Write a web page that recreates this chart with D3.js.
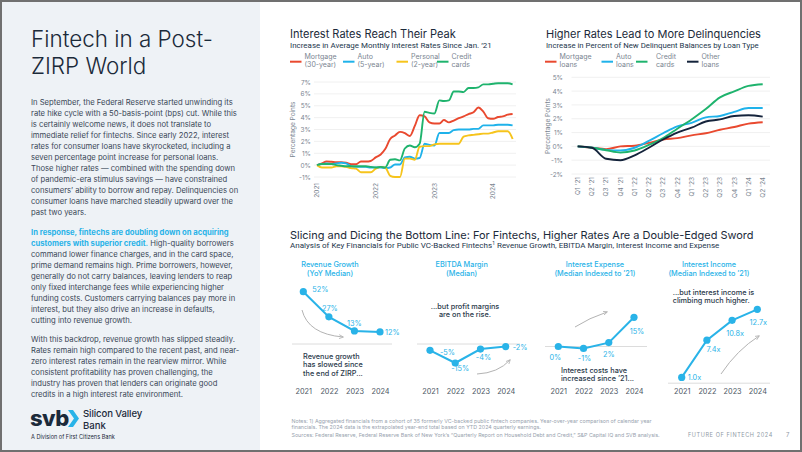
<!DOCTYPE html>
<html><head><meta charset="utf-8">
<script src="https://cdn.jsdelivr.net/npm/d3@7"></script>
<style>
body{margin:0;background:#fff}
svg{display:block}
text{font-family:Inter,"Noto Sans",Roboto,sans-serif}
</style>
</head><body>
<svg id="c" width="802" height="452"></svg>
<script>
// ---------------- DATA ----------------
const rateMonths = ["2021-01","2021-02","2021-03","2021-04","2021-05","2021-06","2021-07","2021-08","2021-09","2021-10","2021-11","2021-12",
"2022-01","2022-02","2022-03","2022-04","2022-05","2022-06","2022-07","2022-08","2022-09","2022-10","2022-11","2022-12",
"2023-01","2023-02","2023-03","2023-04","2023-05","2023-06","2023-07","2023-08","2023-09","2023-10","2023-11","2023-12",
"2024-01","2024-02","2024-03","2024-04","2024-05"];
const mortgageRate = [0,0.15,0.3,0.28,0.25,0.25,0.2,0.08,0.08,0.3,0.3,0.35,
0.65,0.9,1.35,2.2,2.5,2.8,2.7,2.45,3.3,4.2,4.1,3.6,
3.5,3.5,3.8,3.6,3.75,3.95,4.1,4.3,4.45,4.85,4.5,3.95,
3.9,4.05,4.1,4.25,4.3];
const autoRate = [0,0.1,0.15,0.1,0.15,0.2,0.15,-0.1,-0.15,-0.15,-0.15,-0.2,
-0.2,-0.2,-0.25,-0.2,0.05,0.05,0.65,0.7,0.55,0.6,1.8,1.7,
1.65,2.7,2.7,2.7,2.95,3.0,3.0,3.0,3.05,3.05,3.35,3.35,
3.35,3.4,3.4,3.4,3.35];
const personalRate = [0,-0.2,-0.2,-0.2,-0.1,-0.1,-0.15,-0.25,-0.3,-0.6,-0.6,-0.6,
-0.3,-0.15,-0.2,-0.9,-1.0,-1.0,0.55,0.55,0.45,1.55,1.6,1.6,
1.75,1.8,1.8,1.8,1.8,1.8,2.4,2.5,2.55,2.6,2.65,2.65,
2.75,2.85,2.85,2.85,2.2];
const creditRate = [0,0.1,0.1,0.1,0,-0.05,-0.1,-0.1,-0.1,-0.1,-0.1,-0.15,
-0.2,-0.15,-0.2,0.45,0.5,0.4,1.4,1.65,1.5,1.8,4.5,4.4,
4.35,5.45,5.4,5.45,6.2,6.2,6.15,6.5,6.5,6.55,6.8,6.8,
6.85,6.9,6.9,6.9,6.8];
const rateSeriesNames = ["Mortgage|(30-year)","Auto|(5-year)","Personal|(2-year)","Credit|cards"];
const rateTicks = [-1,0,1,2,3,4,5,6,7];
const rateYears = ["2021","2022","2023","2024"];

const quarters = ["Q1 '21","Q2 '21","Q3 '21","Q4 '21","Q1 '22","Q2 '22","Q3 '22","Q4 '22","Q1 '23","Q2 '23","Q3 '23","Q4 '23","Q1 '24","Q2 '24"];
const delMortgage = [0,-0.1,-0.2,0,0.05,0.25,0.5,0.6,0.8,0.95,1.2,1.4,1.65,1.75];
const delAuto = [0,-0.1,-0.25,-0.3,-0.1,0.4,0.95,1.45,1.7,2.1,2.2,2.5,2.78,2.78];
const delCredit = [0,-0.1,-0.28,-0.45,-0.3,0.1,0.6,1.28,1.95,2.7,3.55,3.98,4.38,4.5];
const delOther = [0,-0.1,-0.9,-1.0,-0.65,-0.1,0.5,1.0,1.35,1.8,1.95,2.2,2.25,2.15];
const delSeriesNames = ["Mortgage|loans","Auto|loans","Credit|cards","Other|loans"];
const delTicks = [-2,-1,0,1,2,3,4,5];

const finYears = ["2021","2022","2023","2024"];
const revenueGrowth = [52,27,13,12];
const ebitdaMargin = [-5,-15,-4,-2];
const interestExpense = [0,-1,2,15];
const interestIncome = [1.0,7.4,10.8,12.7];

// ---------------- DRAW ----------------
const svg = d3.select("#c");
const NAVY="#1b2a3a", BODY="#3a4756", GRAY="#7a8591", GRID="#ececec";
const C_RED="#e9492f", C_BLUE="#1fb2ea", C_YEL="#f6c41c", C_GRN="#1eb36d", C_NAVY="#14233b", LB="#29b3e8";
const SUBF = "Roboto,Inter,sans-serif";

function fitW(sel, w){ sel.each(function(){ const cur=this.getComputedTextLength(); const fs=parseFloat(d3.select(this).style("font-size")); d3.select(this).style("font-size",(fs*w/cur)+"px"); }); }

svg.append("rect").attr("x",1).attr("y",1).attr("width",800).attr("height",450).attr("fill","#fff").attr("stroke","#707070").attr("stroke-width",2);
svg.append("rect").attr("x",2).attr("y",2).attr("width",258).attr("height",448).attr("fill","#eef2f6");

// Left panel title
const t1 = svg.append("text").attr("x",31).attr("y",47).attr("fill",NAVY).style("font-weight",300).style("font-size","26px").text("Fintech in a Post-");
fitW(t1,182);
svg.append("text").attr("x",31).attr("y",74).attr("fill",NAVY).style("font-weight",300).style("font-size",t1.style("font-size")).text("ZIRP World");

// Body text
const para1 = ["In September, the Federal Reserve started unwinding its","rate hike cycle with a 50-basis-point (bps) cut. While this","is certainly welcome news, it does not translate to","immediate relief for fintechs. Since early 2022, interest","rates for consumer loans have skyrocketed, including a","seven percentage point increase for personal loans.","Those higher rates \u2014 combined with the spending down","of pandemic-era stimulus savings \u2014 have constrained","consumers\u2019 ability to borrow and repay. Delinquencies on","consumer loans have marched steadily upward over the","past two years."];
const para2 = [[["In response, fintechs are doubling down on acquiring",1]],[["customers with superior credit.",1],[" High-quality borrowers",0]],[["command lower finance charges, and in the card space,",0]],[["prime demand remains high. Prime borrowers, however,",0]],[["generally do not carry balances, leaving lenders to reap",0]],[["only fixed interchange fees while experiencing higher",0]],[["funding costs. Customers carrying balances pay more in",0]],[["interest, but they also drive an increase in defaults,",0]],[["cutting into revenue growth.",0]]];
const para3 = ["With this backdrop, revenue growth has slipped steadily.","Rates remain high compared to the recent past, and near-","zero interest rates remain in the rearview mirror. While","consistent profitability has proven challenging, the","industry has proven that lenders can originate good","credits in a high interest rate environment."];

const bodyG = svg.append("g").style("font-size","8.5px").attr("fill",BODY);
para1.forEach((l,i)=>bodyG.append("text").attr("class","b").attr("x",31).attr("y",104.8+i*11).text(l));
para2.forEach((segs,i)=>{ const t=bodyG.append("text").attr("class","b").attr("x",31).attr("y",234.6+i*11.03);
  segs.forEach(s=>t.append("tspan").text(s[0]).attr("fill",s[1]?LB:BODY).style("font-weight",s[1]?700:400)); });
para3.forEach((l,i)=>bodyG.append("text").attr("class","b").attr("x",31).attr("y",342.3+i*11).text(l));
{ const ref=bodyG.select("text").node(); const k=202/ref.getComputedTextLength(); bodyG.style("font-size",(8.5*k)+"px"); }

// Logo
svg.append("text").attr("x",30).attr("y",425.5).attr("fill",NAVY).style("font-weight",800).style("font-size","22px").style("letter-spacing","-0.5px").text("svb");
svg.append("path").attr("d","M68,410 L73,410 L79,418.5 L73,427 L68,427 L74,418.5 Z").attr("fill",LB);
const sv = svg.append("text").attr("x",83).attr("y",417.3).attr("fill",NAVY).style("font-size","8.6px").style("font-weight",500).style("letter-spacing","-0.1px").text("Silicon Valley");
fitW(sv,59);
svg.append("text").attr("x",83).attr("y",428.6).attr("fill",NAVY).style("font-size",sv.style("font-size")).style("font-weight",500).text("Bank");
const dv = svg.append("text").attr("x",31).attr("y",438.5).attr("fill",NAVY).style("font-size","5.5px").text("A Division of First Citizens Bank");
fitW(dv,84);

// ---------- Chart 1 ----------
const c1 = svg.append("g");
const tt1 = c1.append("text").attr("x",290).attr("y",37.5).attr("fill",NAVY).style("font-size","12.5px").text("Interest Rates Reach Their Peak"); fitW(tt1,166);
const st1 = c1.append("text").attr("x",290).attr("y",48.3).attr("fill","#23364c").style("font-family",SUBF).style("font-size","8px").text("Increase in Average Monthly Interest Rates Since Jan. \u201921"); fitW(st1,202);

const parseM = d3.timeParse("%Y-%m");
const dates = rateMonths.map(parseM);
const x1 = d3.scaleTime().domain([dates[0], dates[dates.length-1]]).range([317, 512.6]);
const y1 = d3.scaleLinear().domain([-1,7]).range([177,82]);
c1.append("g").selectAll("line").data(rateTicks).join("line")
  .attr("x1",314).attr("x2",516).attr("y1",d=>y1(d)).attr("y2",d=>y1(d)).attr("stroke",GRID).attr("stroke-width",0.8);
const ya1 = c1.append("g").attr("transform","translate(311,0)").call(d3.axisLeft(y1).tickValues(rateTicks).tickFormat(d=>d+"%").tickSize(0).tickPadding(0));
ya1.select(".domain").remove();
ya1.selectAll("text").attr("fill",GRAY).style("font-size","6.5px").style("font-family","Inter,sans-serif");
c1.append("g").selectAll("text").data(rateYears).join("text")
  .attr("transform",d=>`translate(${x1(parseM(d+"-01"))},183) rotate(-90)`)
  .attr("dy","0.35em").attr("text-anchor","end").attr("fill",GRAY).style("font-size","6.5px").text(d=>d);
c1.append("text").attr("transform","translate(295,129.5) rotate(-90)").attr("text-anchor","middle").attr("fill",GRAY).style("font-size","6.5px").text("Percentage Points");

const rateSeries = [[mortgageRate,C_RED],[autoRate,C_BLUE],[personalRate,C_YEL],[creditRate,C_GRN]];
const line1 = d3.line().x((d,i)=>x1(dates[i])).y(d=>y1(d)).curve(d3.curveMonotoneX);
rateSeries.forEach(([vals,col])=>c1.append("path").datum(vals).attr("d",line1).attr("fill","none").attr("stroke",col).attr("stroke-width",1.9).attr("stroke-linejoin","round"));
// legend
const leg1X=[290,343,396.5,437];
rateSeriesNames.forEach((n,i)=>{ const [a,b]=n.split("|");
  c1.append("line").attr("x1",leg1X[i]).attr("x2",leg1X[i]+11.5).attr("y1",61.7).attr("y2",61.7).attr("stroke",rateSeries[i][1]).attr("stroke-width",2);
  c1.append("text").attr("x",leg1X[i]+14.5).attr("y",59).attr("fill",GRAY).style("font-size","7px").text(a);
  c1.append("text").attr("x",leg1X[i]+14.5).attr("y",66.5).attr("fill",GRAY).style("font-size","7px").text(b);
});

// ---------- Chart 2 ----------
const c2 = svg.append("g");
const tt2 = c2.append("text").attr("x",546).attr("y",37.5).attr("fill",NAVY).style("font-size","12.5px").text("Higher Rates Lead to More Delinquencies"); fitW(tt2,215);
const st2 = c2.append("text").attr("x",546).attr("y",48.3).attr("fill","#23364c").style("font-family",SUBF).style("font-size","8px").text("Increase in Percent of New Delinquent Balances by Loan Type"); fitW(st2,213);
const x2 = d3.scalePoint().domain(quarters).range([577.7,762.7]);
const y2 = d3.scaleLinear().domain([-2,5]).range([174,77.3]);
c2.append("g").selectAll("line").data(delTicks).join("line")
  .attr("x1",571.5).attr("x2",770).attr("y1",d=>y2(d)).attr("y2",d=>y2(d)).attr("stroke",GRID).attr("stroke-width",0.8);
const ya2 = c2.append("g").attr("transform","translate(563,0)").call(d3.axisLeft(y2).tickValues(delTicks).tickFormat(d=>d+"%").tickSize(0).tickPadding(0));
ya2.select(".domain").remove();
ya2.selectAll("text").attr("fill",GRAY).style("font-size","6.5px").style("font-family","Inter,sans-serif");
c2.append("g").selectAll("text").data(quarters).join("text")
  .attr("transform",d=>`translate(${x2(d)},177) rotate(-90)`)
  .attr("dy","0.35em").attr("text-anchor","end").attr("fill",GRAY).style("font-size","6.5px").text(d=>d);
c2.append("text").attr("transform","translate(550,126) rotate(-90)").attr("text-anchor","middle").attr("fill",GRAY).style("font-size","6.5px").text("Percentage Points");
const delSeries = [[delMortgage,C_RED],[delAuto,C_BLUE],[delCredit,C_GRN],[delOther,C_NAVY]];
const line2 = d3.line().x((d,i)=>x2(quarters[i])).y(d=>y2(d)).curve(d3.curveMonotoneX);
delSeries.forEach(([vals,col])=>c2.append("path").datum(vals).attr("d",line2).attr("fill","none").attr("stroke",col).attr("stroke-width",1.9));
const leg2X=[545,601.5,636,687];
delSeriesNames.forEach((n,i)=>{ const [a,b]=n.split("|");
  c2.append("line").attr("x1",leg2X[i]).attr("x2",leg2X[i]+11.5).attr("y1",61.7).attr("y2",61.7).attr("stroke",delSeries[i][1]).attr("stroke-width",2);
  const tx = i===2? leg2X[i]+20 : leg2X[i]+14.5;
  c2.append("text").attr("x",tx).attr("y",59).attr("fill",GRAY).style("font-size","7px").text(a);
  c2.append("text").attr("x",tx).attr("y",66.5).attr("fill",GRAY).style("font-size","7px").text(b);
});

// ---------- Bottom section ----------
const c3 = svg.append("g");
const tt3 = c3.append("text").attr("x",290).attr("y",238.5).attr("fill",NAVY).style("font-size","12.5px").text("Slicing and Dicing the Bottom Line: For Fintechs, Higher Rates Are a Double-Edged Sword"); fitW(tt3,464);
const st3 = c3.append("text").attr("x",290).attr("y",248.3).attr("fill","#23364c").style("font-family",SUBF).style("font-size","8px");
st3.append("tspan").text("Analysis of Key Financials for Public VC-Backed Fintechs");
st3.append("tspan").text("1").style("font-size","5px").attr("dy","-3");
st3.append("tspan").text(" Revenue Growth, EBITDA Margin, Interest Income and Expense").attr("dy","3");
fitW(st3,430);

const defs = svg.append("defs");
defs.append("marker").attr("id","ah").attr("viewBox","0 0 10 10").attr("refX",8).attr("refY",5).attr("markerWidth",5).attr("markerHeight",5).attr("orient","auto")
  .append("path").attr("d","M0,1 L9,5 L0,9").attr("fill","none").attr("stroke","#b3b3b3").attr("stroke-width",1.6);

const panels = [
  {title:["Revenue Growth","(YoY Median)"], cx:330, vals:revenueGrowth, fmt:d=>d+"%", xr:[303.3,380], dom:[0,52], rng:[344,291.7], base:[292,392,344],
   lab:[[9,-2.5,"start"],[1,-8,"middle"],[0,-7.5,"middle"],[5,0.5,"start"]],
   note:["Revenue growth","has slowed since","the end of ZIRP..."], noteX:303, noteY:356.5, noteAnchor:"start",
   arrow:"M302,310 Q308,334 343,337"},
  {title:["EBITDA Margin","(Median)"], cx:461.7, vals:ebitdaMargin, fmt:d=>d+"%", xr:[430,505.7], dom:[0,-15], rng:[344,363], base:[417,520,344],
   lab:[[10,2,"start"],[5,5.5,"middle"],[3,8,"middle"],[7,0.5,"start"]],
   note:["...but profit margins","are on the rise."], noteX:465, noteY:306.5, noteAnchor:"middle",
   arrow:"M477,374 Q498,373 510,360"},
  {title:["Interest Expense","(Median Indexed to \u201921)"], cx:595, vals:interestExpense, fmt:d=>d+"%", xr:[558.3,634], dom:[0,15], rng:[346.5,317.3], base:[545,647,346.5],
   lab:[[-3,10.5,"middle"],[1,9.5,"middle"],[0,12,"middle"],[3,14,"middle"]],
   note:["Interest costs have","increased since \u201921..."], noteX:561, noteY:370.5, noteAnchor:"start",
   arrow:"M575,327 Q589,318 607,312"},
  {title:["Interest Income","(Median Indexed to \u201921)"], cx:709, vals:interestIncome, fmt:d=>d.toFixed(1)+"x", xr:[681.7,757.3], dom:[0,12.7], rng:[383.2,309.3], base:[668,770,383.2],
   lab:[[6,0,"start"],[6.5,9.3,"middle"],[3,12.7,"middle"],[1,13.4,"middle"]],
   note:["...but interest income is","climbing much higher."], noteX:672.7, noteY:292.5, noteAnchor:"start",
   arrow:"M721,374 Q737,350 759,336"}
];
panels.forEach(p=>{
  const g = c3.append("g");
  p.title.forEach((t,i)=>g.append("text").attr("x",p.cx).attr("y",264+i*9.3).attr("dy","0.35em").attr("text-anchor","middle").attr("fill",LB).style("font-size","7.3px").style("font-weight",500).text(t));
  g.append("line").attr("x1",p.base[0]).attr("x2",p.base[1]).attr("y1",p.base[2]).attr("y2",p.base[2]).attr("stroke","#dcdcdc").attr("stroke-width",1);
  const xs = d3.scalePoint().domain(finYears).range(p.xr);
  const ys = d3.scaleLinear().domain(p.dom).range(p.rng);
  g.append("path").attr("d",p.arrow).attr("fill","none").attr("stroke","#b3b3b3").attr("stroke-width",1).attr("marker-end","url(#ah)");
  g.append("path").datum(p.vals).attr("d",d3.line().x((d,i)=>xs(finYears[i])).y(d=>ys(d))).attr("fill","none").attr("stroke",LB).attr("stroke-width",2);
  g.selectAll("circle").data(p.vals).join("circle").attr("cx",(d,i)=>xs(finYears[i])).attr("cy",d=>ys(d)).attr("r",3.6).attr("fill",LB);
  g.selectAll("text.v").data(p.vals).join("text").attr("class","v")
    .attr("x",(d,i)=>xs(finYears[i])+p.lab[i][0]).attr("y",(d,i)=>ys(d)+p.lab[i][1]).attr("dy","0.35em")
    .attr("text-anchor",(d,i)=>p.lab[i][2]).attr("fill",LB).style("font-size","7.3px").text(p.fmt);
  p.note.forEach((t,i)=>g.append("text").attr("x",p.noteX).attr("y",p.noteY+i*8.4).attr("dy","0.35em").attr("text-anchor",p.noteAnchor).attr("fill","#2b3a4b").style("font-size","7.3px").style("font-weight",500).text(t));
  const xa = g.append("g").attr("transform","translate(0,389)").call(d3.axisBottom(xs).tickSize(0).tickPadding(0));
  xa.select(".domain").remove();
  xa.selectAll("text").attr("dy","0.71em").attr("fill","#4a5563").style("font-size","7.3px").style("font-family","Inter,sans-serif");
});

// Footnotes
const fn = c3.append("g").attr("fill","#97a2ae").style("font-size","5.2px");
fn.append("text").attr("x",291.5).attr("y",423).text("Notes: 1) Aggregated financials from a cohort of 35 formerly VC-backed public fintech companies. Year-over-year comparison of calendar year");
fn.append("text").attr("x",291.5).attr("y",429.3).text("financials. The 2024 data is the extrapolated year-end total based on YTD 2024 quarterly earnings.");
const f3 = fn.append("text").attr("x",291.5).attr("y",437).text("Sources: Federal Reserve, Federal Reserve Bank of New York\u2019s \u201cQuarterly Report on Household Debt and Credit,\u201d S&P Capital IQ and SVB analysis.");
{ const k=368/f3.node().getComputedTextLength(); fn.style("font-size",(5.2*k)+"px"); }
const ff = c3.append("text").attr("x",688).attr("y",437).attr("fill","#8e99a5").style("font-size","6px").style("letter-spacing","0.6px").text("FUTURE OF FINTECH 2024");
fitW(ff,84);
c3.append("text").attr("x",786).attr("y",437).attr("fill","#8e99a5").style("font-size","6px").text("7");
</script>
</body></html>
